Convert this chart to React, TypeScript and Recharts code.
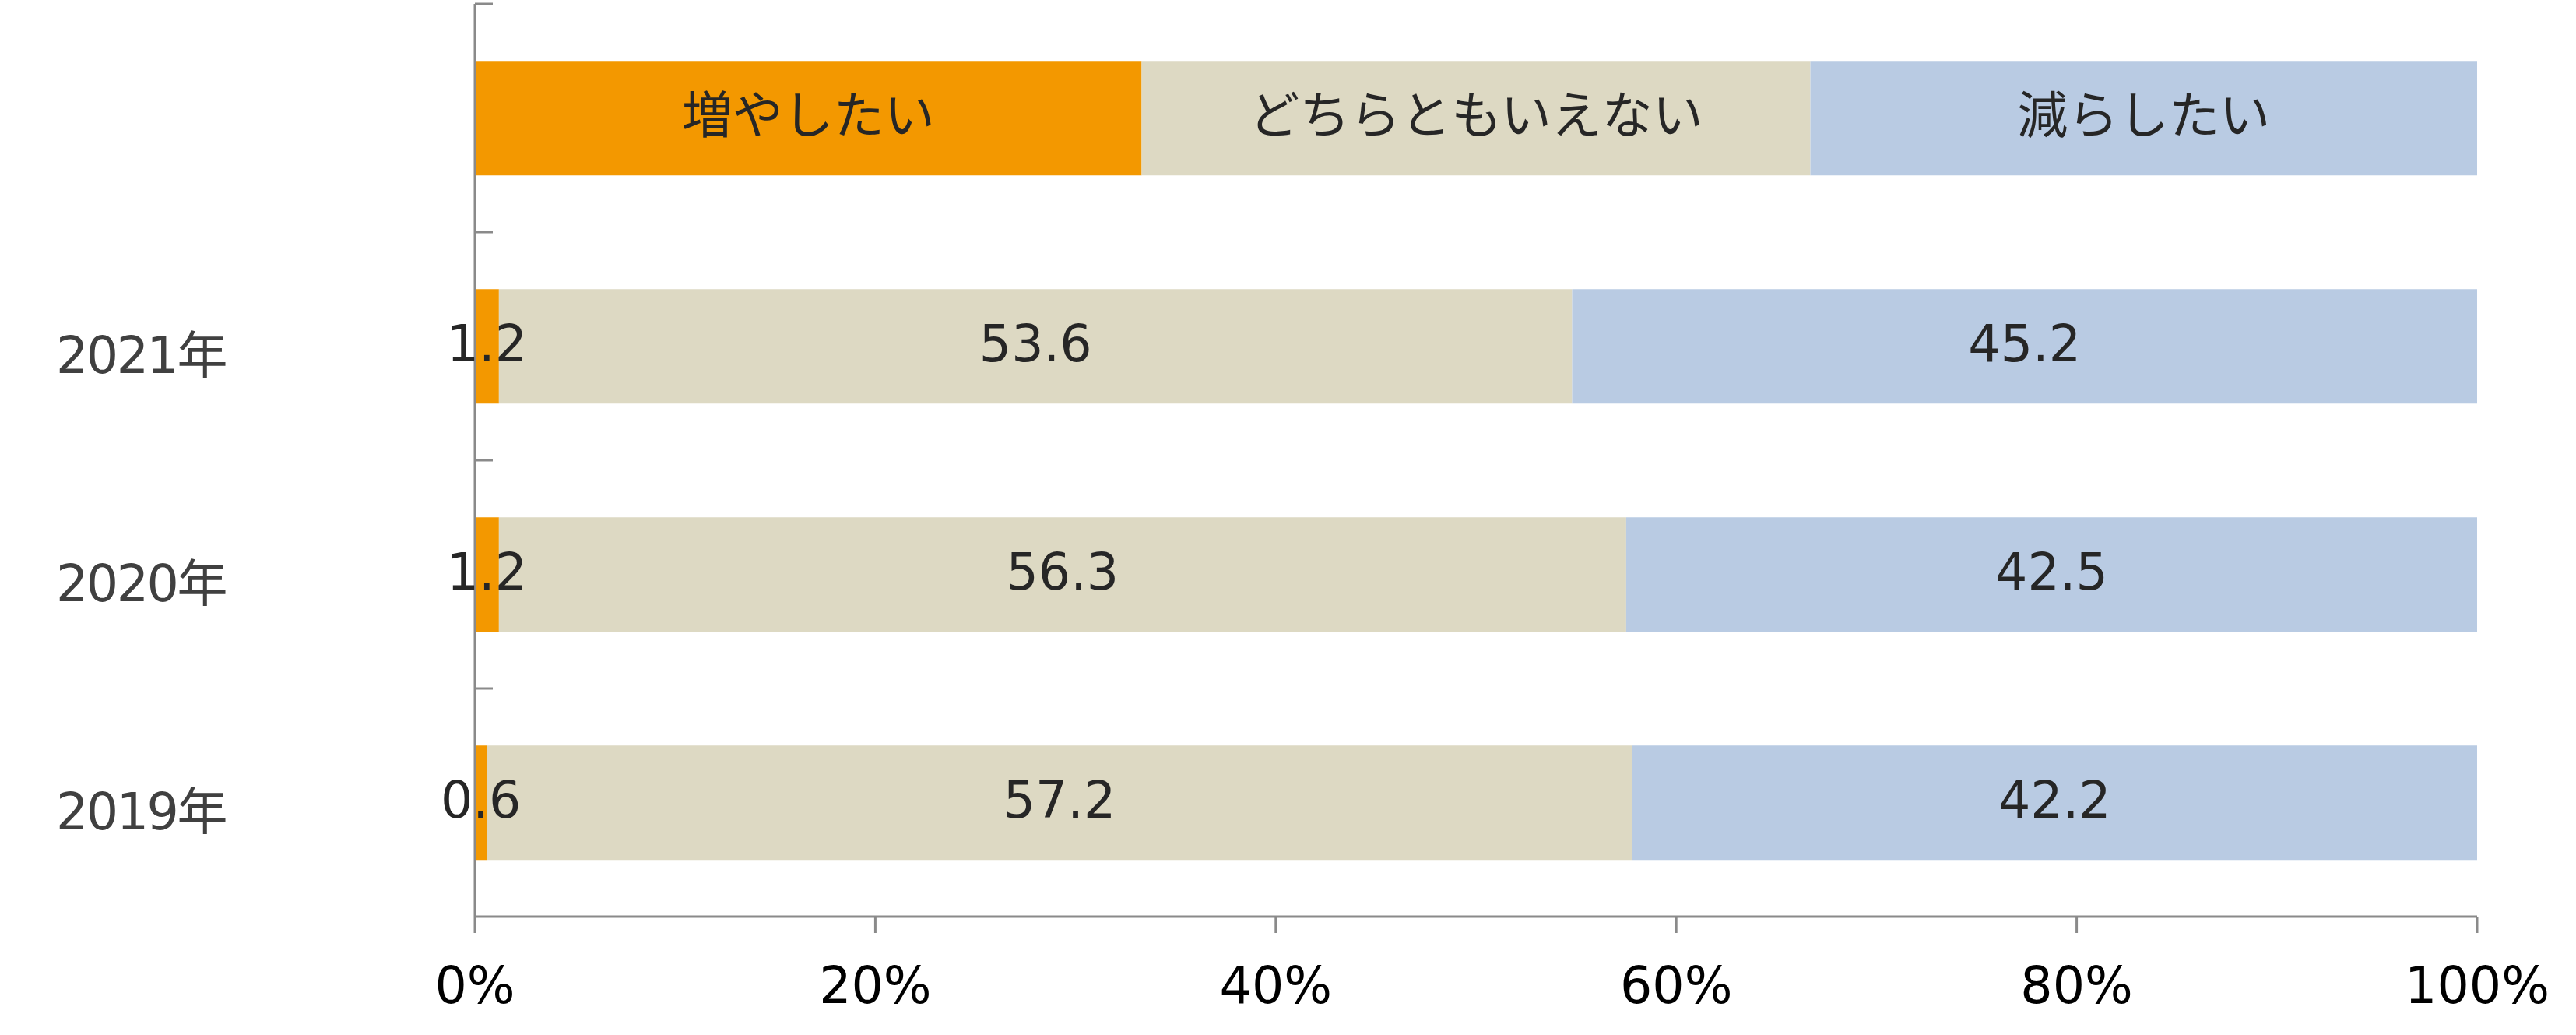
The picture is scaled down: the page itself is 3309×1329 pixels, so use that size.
import React from "react";
import { BarChart, Bar, XAxis, YAxis, LabelList } from "recharts";

const categories = ["", "2021年", "2020年", "2019年"];
const seriesNames = ["増やしたい", "どちらともいえない", "減らしたい"];
const increase = [33.3, 1.2, 1.2, 0.6];
const neutral = [33.4, 53.6, 56.3, 57.2];
const decrease = [33.3, 45.2, 42.5, 42.2];
const xTicks = [0, 20, 40, 60, 80, 100];

const colors = ["#F39800", "#DDD9C3", "#B9CBE3"];
const FONT = "'DejaVu Sans', 'Noto Sans CJK JP', sans-serif";
const FS = 65;

const W = 3309;
const H = 1329;
const MARGIN = { top: 5, right: 127, left: 0, bottom: 0 };
const Y_AXIS_W = 610;
const X_AXIS_H = 152;
const PLOT_H = H - MARGIN.top - MARGIN.bottom - X_AXIS_H;
const BAND = PLOT_H / categories.length;
const AXIS_COLOR = "#8a8a8a";

const fmt = (v: number) => v.toFixed(1);

const data = categories.map((c, i) => ({
  cat: c,
  inc: increase[i],
  neu: neutral[i],
  dec: decrease[i],
  incLabel: i === 0 ? seriesNames[0] : fmt(increase[i]),
  neuLabel: i === 0 ? seriesNames[1] : fmt(neutral[i]),
  decLabel: i === 0 ? seriesNames[2] : fmt(decrease[i]),
}));

const YTick = (props: any) => {
  const { y, payload } = props;
  return (
    <g>
      <line
        x1={Y_AXIS_W}
        x2={Y_AXIS_W + 23}
        y1={y - BAND / 2}
        y2={y - BAND / 2}
        stroke={AXIS_COLOR}
        strokeWidth={3}
      />
      <text
        x={72}
        y={y}
        dy={34}
        textAnchor="start"
        fontSize={FS}
        fontFamily={FONT}
        letterSpacing={-2.5}
        fill="#404040"
      >
        {payload.value}
      </text>
    </g>
  );
};

const renderLabel = (props: any) => {
  const { x, y, width, height, value } = props;
  return (
    <text
      x={Number(x) + Number(width) / 2}
      y={Number(y) + Number(height) / 2}
      dy={19}
      textAnchor="middle"
      fontSize={FS}
      fontFamily={FONT}
      fill="#262626"
    >
      {value}
    </text>
  );
};

export default function App() {
  return (
    <div style={{ position: "absolute", left: 0, top: 0, background: "#fff" }}>
      <BarChart
        width={W}
        height={H}
        data={data}
        layout="vertical"
        margin={MARGIN}
        barCategoryGap="25%"
      >
        <XAxis
          type="number"
          domain={[0, 100]}
          ticks={xTicks}
          tickFormatter={(v: number) => `${v}%`}
          height={X_AXIS_H}
          tickSize={21}
          tickMargin={44}
          axisLine={{ stroke: AXIS_COLOR, strokeWidth: 3 }}
          tickLine={{ stroke: AXIS_COLOR, strokeWidth: 3 }}
          tick={{ fontSize: FS, fontFamily: FONT, fill: "#000" }}
          interval={0}
          allowDataOverflow
        />
        <YAxis
          type="category"
          dataKey="cat"
          width={Y_AXIS_W}
          axisLine={{ stroke: AXIS_COLOR, strokeWidth: 3 }}
          tickLine={false}
          tick={<YTick />}
          interval={0}
        />
        <Bar dataKey="inc" stackId="a" fill={colors[0]} isAnimationActive={false}>
          <LabelList dataKey="incLabel" content={renderLabel} />
        </Bar>
        <Bar dataKey="neu" stackId="a" fill={colors[1]} isAnimationActive={false}>
          <LabelList dataKey="neuLabel" content={renderLabel} />
        </Bar>
        <Bar dataKey="dec" stackId="a" fill={colors[2]} isAnimationActive={false}>
          <LabelList dataKey="decLabel" content={renderLabel} />
        </Bar>
      </BarChart>
    </div>
  );
}
